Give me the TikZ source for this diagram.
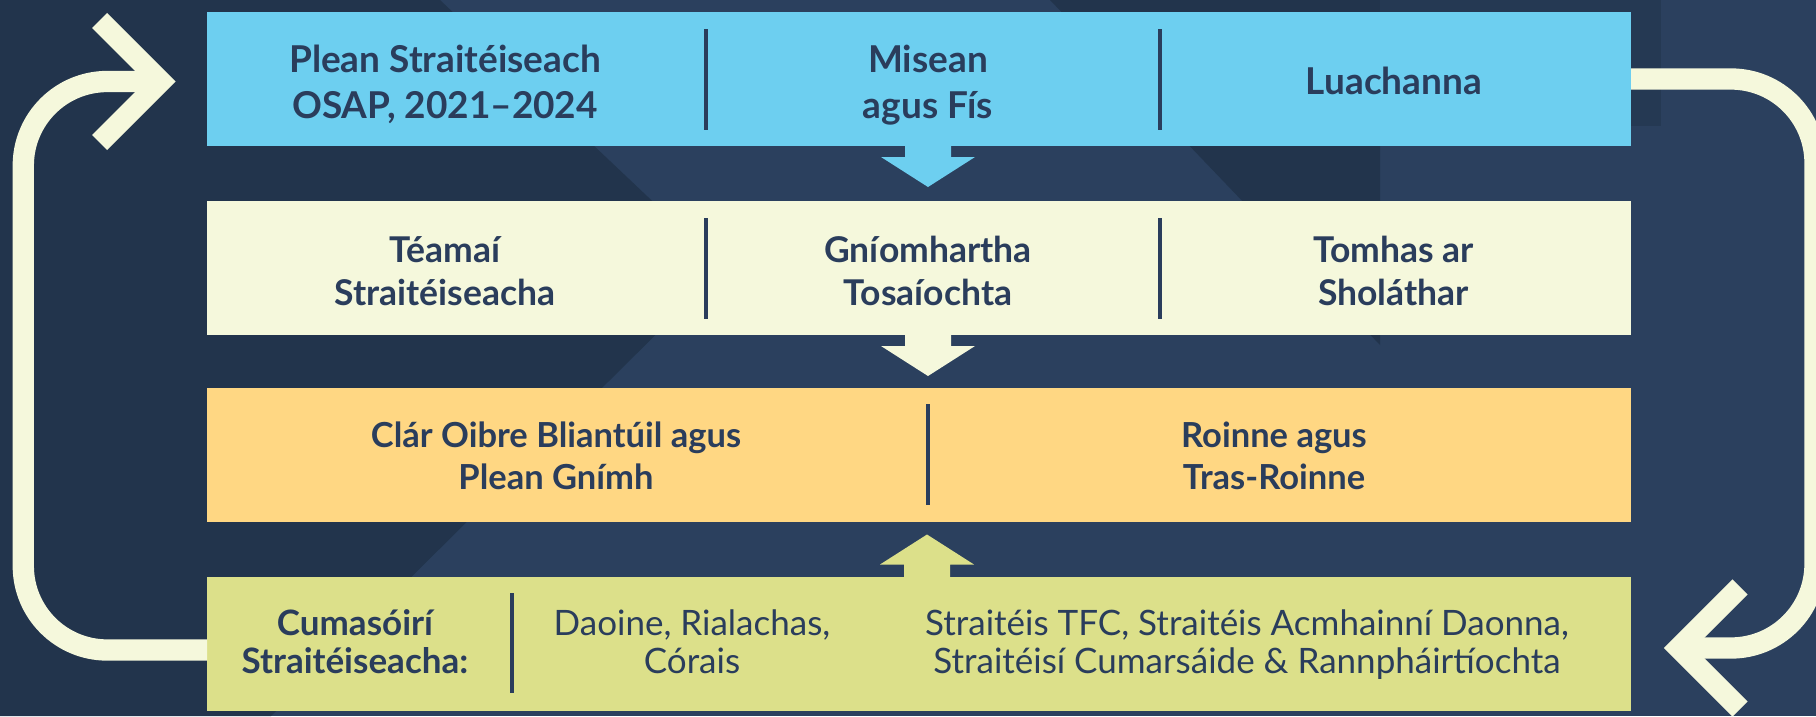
\documentclass[tikz,border=0pt]{standalone}
\usepackage{fontspec}
\setmainfont{Lato}
\usepackage{tikz}
\usetikzlibrary{calc,positioning}

\definecolor{bgnavy}{HTML}{2B405E}
\definecolor{bgdark}{HTML}{22344C}
\definecolor{bgmid}{HTML}{253953}
\definecolor{ink}{HTML}{2A3D5C}
\definecolor{skyblue}{HTML}{6DCFF0}
\definecolor{cream}{HTML}{F5F8DC}
\definecolor{sand}{HTML}{FFD783}
\definecolor{lime}{HTML}{DCE08A}

\newcommand{\tstrut}{\rule{0pt}{40pt}}
\newcommand{\rowonefont}{\fontsize{37}{46}\selectfont\bfseries}
\newcommand{\rowtwofont}{\fontsize{35.5}{43}\selectfont\bfseries}
\newcommand{\rowthreefont}{\fontsize{34.5}{42.4}\selectfont\bfseries}
\newcommand{\rowfourfont}{\fontsize{35}{38}\selectfont}

\begin{document}
\begin{tikzpicture}[x=1pt,y=-1pt,
  box/.style={minimum width=1424pt,minimum height=134pt,inner sep=0pt,outer sep=0pt},
  bar/.style={draw=ink,line width=3.5pt},
  lbl/.style={anchor=north,inner sep=0pt,align=center,text=ink},
  loopline/.style={draw=cream,line width=21.3pt,rounded corners=84pt},
  chevron/.style={draw=cream,line width=21.3pt}]

\useasboundingbox (0,0) rectangle (1816,716);
\clip (0,0) rectangle (1816,716);

%background
\fill[bgnavy] (0,0) rectangle (1816,716);
\fill[bgdark] (0,0) -- (440,0) -- (723,268) -- (271,716) -- (0,716) -- cycle;
\fill[bgdark] (1050,0) -- (1380,0) -- (1380,345) -- cycle;
\fill[bgmid] (1380,0) rectangle (1661,126);

%boxes
\node[box,fill=skyblue] (strategy) at (919,79) {};
\node[box,fill=cream,below=55pt of strategy] (themes) {};
\node[box,fill=sand,below=53pt of themes] (workplan) {};
\node[box,fill=lime,below=55pt of workplan] (enablers) {};

%dividers
\foreach \row in {strategy,themes}
  \foreach \dx in {499,953}
    \draw[bar] ($(\row.north west)+(\dx,17)$) -- ++(0,101);
\draw[bar] ($(workplan.north west)+(721,16)$) -- ++(0,101);
\draw[bar] ($(enablers.north west)+(305,16)$) -- ++(0,100);

%labels
\node[lbl,font=\rowonefont] (plean) at (445,32.7) {\tstrut Plean Straitéiseach\\OSAP, 2021–2024};
\node[lbl,font=\rowonefont] (misean) at (928,32.7) {\tstrut Misean\\agus Fís};
\node[lbl,font=\rowonefont] (luach) at (1394,54.3) {\tstrut Luachanna};

\node[lbl,font=\rowtwofont] (teamai) at (445,222) {\tstrut Téamaí\\Straitéiseacha};
\node[lbl,font=\rowtwofont] (gniomh) at (928,222) {\tstrut Gníomhartha\\Tosaíochta};
\node[lbl,font=\rowtwofont] (tomhas) at (1393.5,222) {\tstrut Tomhas ar\\Sholáthar};

\node[lbl,font=\rowthreefont] (clar) at (556,407) {\tstrut Clár Oibre Bliantúil agus\\Plean Gnímh};
\node[lbl,font=\rowthreefont] (roinne) at (1274,407) {\tstrut Roinne agus\\Tras-Roinne};

\node[lbl,font=\rowfourfont\bfseries] (cumas) at (355,595) {\tstrut Cumasóirí\\Straitéiseacha:};
\node[lbl,font=\rowfourfont] (daoine) at (692,595) {\tstrut Daoine, Rialachas,\\Córais};
\node[lbl,font=\rowfourfont] (tfc) at (1247,595) {\tstrut Straitéis TFC, Straitéis Acmhainní Daonna,\\Straitéisí Cumarsáide \& Rannpháirtíochta};

%block arrows
\fill[skyblue] ([xshift=9pt]strategy.south) ++(-23,-1) -- ++(0,12) -- ++(-24,0) -- ++(47,30)
  -- ++(47,-30) -- ++(-24,0) -- ++(0,-12) -- cycle;
\fill[cream] ([xshift=9pt]themes.south) ++(-23,-1) -- ++(0,12) -- ++(-24,0) -- ++(47,30)
  -- ++(47,-30) -- ++(-24,0) -- ++(0,-12) -- cycle;
\fill[lime] ([xshift=8pt]enablers.north) ++(-23,1) -- ++(0,-13.5) -- ++(-24,0) -- ++(47,-30)
  -- ++(47,30) -- ++(-24,0) -- ++(0,13.5) -- cycle;

%cycle
\coordinate (lefttip) at (160.6,81.5);
\coordinate (righttip) at (1679,648);
\draw[loopline] ([yshift=-6pt]enablers.west) -| (23.3,81.5) -- (lefttip);
\draw[chevron] ($(lefttip)+(-61,-61)$) -- (lefttip) -- ($(lefttip)+(-61,61)$);
\draw[loopline] (strategy.east) -| (1815,648) -- (righttip);
\draw[chevron] ($(righttip)+(61,-61)$) -- (righttip) -- ($(righttip)+(61,61)$);

\end{tikzpicture}
\end{document}
